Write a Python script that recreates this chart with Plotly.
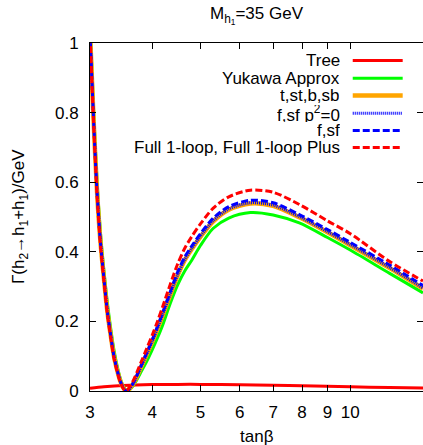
import plotly.graph_objects as go

# tan(beta) sampling points shared by the loop-level curves
tan_beta = [3.0, 3.05, 3.1, 3.15, 3.2, 3.25, 3.3, 3.35, 3.4, 3.45, 3.5,
            3.54, 3.57, 3.6, 3.65, 3.7, 3.8, 3.9, 4.0, 4.1, 4.2,
            4.35, 4.5, 4.65, 4.8, 5.0, 5.3, 5.7, 6.3, 7.0, 7.9,
            9.0, 10.0, 12.0, 14.0]

yukawa = [1.06, 0.81, 0.6, 0.452, 0.345, 0.255, 0.182, 0.12, 0.073, 0.037, 0.013,
          0.003, 0.0, 0.003, 0.012, 0.025, 0.055, 0.085, 0.118, 0.153, 0.19,
          0.252, 0.305, 0.345, 0.375, 0.418, 0.467, 0.497, 0.513, 0.506, 0.483,
          0.441, 0.405, 0.338, 0.282]

t_st_b_sb = [1.03, 0.78, 0.57, 0.425, 0.323, 0.23, 0.162, 0.102, 0.061, 0.029, 0.009,
             0.001, 0.001, 0.006, 0.017, 0.032, 0.069, 0.105, 0.141, 0.179, 0.218,
             0.277, 0.332, 0.376, 0.407, 0.443, 0.487, 0.521, 0.539, 0.532, 0.499,
             0.456, 0.419, 0.353, 0.294]

f_sf_p2zero = [1.03, 0.78, 0.57, 0.425, 0.323, 0.23, 0.162, 0.102, 0.061, 0.029, 0.009,
               0.001, 0.001, 0.006, 0.017, 0.033, 0.07, 0.106, 0.142, 0.181, 0.22,
               0.279, 0.334, 0.378, 0.409, 0.445, 0.489, 0.523, 0.541, 0.534, 0.501,
               0.458, 0.421, 0.355, 0.296]

f_sf = [1.03, 0.78, 0.57, 0.425, 0.323, 0.23, 0.162, 0.102, 0.061, 0.029, 0.009,
        0.001, 0.001, 0.007, 0.019, 0.035, 0.073, 0.11, 0.147, 0.186, 0.226,
        0.286, 0.342, 0.385, 0.416, 0.452, 0.496, 0.53, 0.548, 0.541, 0.507,
        0.464, 0.427, 0.362, 0.303]

full_1loop = [1.02, 0.77, 0.56, 0.415, 0.315, 0.222, 0.155, 0.096, 0.057, 0.026, 0.007,
              0.0, 0.003, 0.011, 0.025, 0.043, 0.083, 0.122, 0.16, 0.2, 0.243,
              0.307, 0.365, 0.41, 0.443, 0.48, 0.525, 0.558, 0.577, 0.571, 0.536,
              0.489, 0.452, 0.372, 0.316]

# tree-level width on its own grid
tree_tan_beta = [3.0, 3.2, 3.5, 4.0, 4.5, 5.0, 6.0, 7.0, 8.0, 10.0, 12.0, 14.0]
tree = [0.008, 0.012, 0.016, 0.0185, 0.019, 0.019, 0.018, 0.0165, 0.015, 0.012, 0.0098, 0.0085]

x_tick_vals = [3, 4, 5, 6, 7, 8, 9, 10]
x_tick_text = ["3", "4", "5", "6", "7", "8", "9", "10"]
y_tick_vals = [0, 0.2, 0.4, 0.6, 0.8, 1.0]
y_tick_text = ["0", "0.2", "0.4", "0.6", "0.8", "1"]

labels = ["Tree", "Yukawa Approx", "t,st,b,sb", "f,sf p<sup>2</sup>=0", "f,sf",
          "Full 1-loop, Full 1-loop Plus"]

FONT = "Liberation Sans, Arial, Helvetica, sans-serif"
RED, GREEN, ORANGE, BLUE = "#ff0000", "#00ff00", "#ffa500", "#0000ff"

series = [
    (tree_tan_beta, tree, dict(color=RED, width=3, dash="solid")),
    (tan_beta, yukawa, dict(color=GREEN, width=3, dash="solid")),
    (tan_beta, t_st_b_sb, dict(color=ORANGE, width=4.5, dash="solid")),
    (tan_beta, f_sf_p2zero, dict(color=BLUE, width=3, dash="1px,1px")),
    (tan_beta, f_sf, dict(color=BLUE, width=3, dash="7px,3px")),
    (tan_beta, full_1loop, dict(color=RED, width=3, dash="7px,3px")),
]

fig = go.Figure()
for (xs, ys, style), name in zip(series, labels):
    fig.add_trace(go.Scatter(x=xs, y=ys, mode="lines", name=name, showlegend=False,
                             line=dict(shape="spline", smoothing=0.8, **style)))

# gnuplot-style key: right-aligned text with the line sample to its right
row_y = [0.9497, 0.8989, 0.8491, 0.7983, 0.7486, 0.6997]
for (xs, ys, style), name, yy in zip(series, labels, row_y):
    fig.add_annotation(x=0.754, y=yy, xref="paper", yref="paper", text=name,
                       showarrow=False, xanchor="right", yanchor="middle",
                       height=17, borderpad=0, valign="middle",
                       font=dict(family=FONT, size=17, color="black"))
    fig.add_shape(type="line", xref="paper", yref="paper", x0=0.789, x1=0.939,
                  y0=yy, y1=yy, line=dict(color=style["color"], width=style["width"],
                                          dash=style["dash"]))

fig.add_annotation(x=0.5, y=1.078, xref="paper", yref="paper",
                   text="M<sub>h<sub>1</sub></sub>=35 GeV", showarrow=False,
                   xanchor="center", yanchor="middle",
                   font=dict(family=FONT, size=17, color="black"))
fig.add_annotation(x=0.5, y=-0.131, xref="paper", yref="paper", text="tanβ",
                   showarrow=False, xanchor="center", yanchor="middle",
                   font=dict(family=FONT, size=17, color="black"))
fig.add_annotation(x=-0.21, y=0.5, xref="paper", yref="paper",
                   text="Γ(h<sub>2</sub>→h<sub>1</sub>+h<sub>1</sub>)/GeV",
                   showarrow=False, textangle=-90, xanchor="center", yanchor="middle",
                   font=dict(family=FONT, size=17, color="black"))

fig.update_xaxes(type="log", range=[0.47712, 1.14613], tickvals=x_tick_vals,
                 ticktext=x_tick_text, ticks="inside", ticklen=6, tickcolor="black",
                 showline=True, linecolor="black", linewidth=1, mirror="ticks",
                 showgrid=False, zeroline=False, ticklabelstandoff=6,
                 tickfont=dict(family=FONT, size=17, color="black"))
fig.update_yaxes(range=[0, 1], tickvals=y_tick_vals, ticktext=y_tick_text,
                 ticks="inside", ticklen=6, tickcolor="black",
                 showline=True, linecolor="black", linewidth=1, mirror="ticks",
                 showgrid=False, zeroline=False, ticklabelstandoff=7,
                 tickfont=dict(family=FONT, size=17, color="black"))

fig.update_layout(width=423, height=445, margin=dict(l=90, r=0, t=43, b=54),
                  paper_bgcolor="white", plot_bgcolor="white", showlegend=False)

fig.write_html("out.html")
